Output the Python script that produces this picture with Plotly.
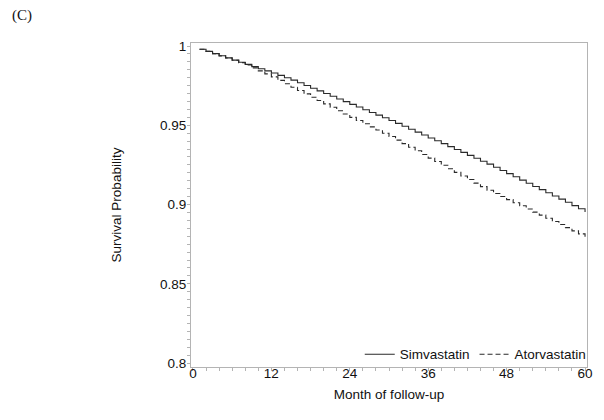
import plotly.graph_objects as go

months = list(range(1, 61))

simvastatin = [
    0.9980, 0.9966, 0.9952, 0.9939, 0.9925, 0.9911, 0.9898, 0.9884, 0.9870, 0.9857,
    0.9843, 0.9830, 0.9815, 0.9800, 0.9785, 0.9768, 0.9751, 0.9734, 0.9717, 0.9700,
    0.9683, 0.9666, 0.9649, 0.9632, 0.9615, 0.9598, 0.9581, 0.9564, 0.9547, 0.9530,
    0.9512, 0.9494, 0.9475, 0.9457, 0.9439, 0.9420, 0.9402, 0.9384, 0.9365, 0.9347,
    0.9329, 0.9310, 0.9292, 0.9273, 0.9255, 0.9235, 0.9215, 0.9195, 0.9175, 0.9154,
    0.9134, 0.9114, 0.9094, 0.9074, 0.9054, 0.9034, 0.9014, 0.8993, 0.8973, 0.8953,
]

atorvastatin = [
    0.9980, 0.9966, 0.9952, 0.9938, 0.9924, 0.9910, 0.9895, 0.9880, 0.9862, 0.9843,
    0.9824, 0.9805, 0.9783, 0.9762, 0.9740, 0.9719, 0.9698, 0.9677, 0.9656, 0.9635,
    0.9614, 0.9592, 0.9571, 0.9550, 0.9530, 0.9510, 0.9490, 0.9470, 0.9450, 0.9429,
    0.9406, 0.9384, 0.9361, 0.9339, 0.9316, 0.9293, 0.9271, 0.9248, 0.9226, 0.9203,
    0.9180, 0.9158, 0.9135, 0.9113, 0.9090, 0.9070, 0.9051, 0.9031, 0.9011, 0.8992,
    0.8972, 0.8952, 0.8933, 0.8913, 0.8893, 0.8874, 0.8854, 0.8834, 0.8815, 0.8795,
]

x_ticks = [0, 12, 24, 36, 48, 60]
y_ticks = [0.8, 0.85, 0.9, 0.95, 1.0]
y_tick_labels = ["0.8", "0.85", "0.9", "0.95", "1"]

font_family = "Liberation Sans, Arial, sans-serif"
axis_color = "#b4b4b4"

# page body has an 8px margin, so the figure is 8px smaller and margins shifted
W, H = 596, 412
ML, MR, MT, MB = 183, 12, 35, 53
PW, PH = W - ML - MR, H - MT - MB

fig = go.Figure()
fig.add_trace(go.Scatter(
    x=months, y=simvastatin, mode="lines", name="Simvastatin",
    line=dict(color="#2a2a2a", width=1.1, shape="hv"),
))
fig.add_trace(go.Scatter(
    x=months, y=atorvastatin, mode="lines", name="Atorvastatin",
    line=dict(color="#2a2a2a", width=1.1, shape="hv", dash="5px,3px"),
))

fig.update_layout(
    width=W, height=H,
    margin=dict(l=ML, r=MR, t=MT, b=MB),
    paper_bgcolor="white", plot_bgcolor="white",
    font=dict(family=font_family, size=13.5, color="#111111"),
    showlegend=True,
    legend=dict(
        orientation="h", x=1.012, xanchor="right", y=-0.009, yanchor="bottom",
        bgcolor="rgba(0,0,0,0)", font=dict(size=13.5), itemwidth=30,
    ),
    annotations=[dict(
        text="(C)", x=(0 - ML) / PW, y=1 + (MT - 7) / PH, xref="paper", yref="paper",
        showarrow=False, xanchor="left", yanchor="middle",
        font=dict(family="Liberation Serif, Times New Roman, serif", size=15, color="#111111"),
    )],
)

fig.update_xaxes(
    range=[-0.3, 60.3], tickvals=x_ticks, ticks="outside", ticklen=3,
    tickcolor=axis_color, showline=True, linecolor=axis_color, linewidth=1,
    mirror=True, showgrid=False, zeroline=False, ticklabelstandoff=-9,
    minor=dict(dtick=2, tick0=0, ticks="outside", ticklen=3, tickcolor=axis_color, showgrid=False),
    title=dict(text="Month of follow-up", standoff=9, font=dict(size=13.5)),
    tickfont=dict(size=13.5),
)
fig.update_yaxes(
    range=[0.7975, 1.0019], tickvals=y_ticks, ticktext=y_tick_labels,
    ticks="outside", ticklen=3, tickcolor=axis_color, showline=True,
    linecolor=axis_color, linewidth=1, mirror=True, showgrid=False, zeroline=False,
    ticklabelstandoff=-2,
    minor=dict(dtick=0.005, tick0=0.8, ticks="outside", ticklen=3, tickcolor=axis_color, showgrid=False),
    title=dict(text="Survival Probability", standoff=35, font=dict(size=13.5)),
    tickfont=dict(size=13.5),
)

fig.write_html("out.html")
